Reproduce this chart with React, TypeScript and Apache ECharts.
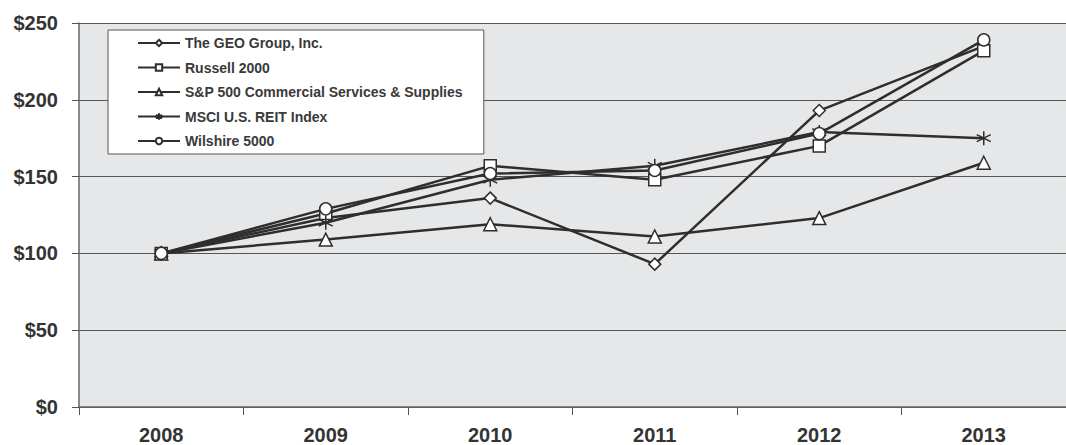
import React, { useEffect, useRef } from "react";
import * as echarts from "echarts";

const years = ["2008", "2009", "2010", "2011", "2012", "2013"];
const seriesNames = [
  "The GEO Group, Inc.",
  "Russell 2000",
  "S&P 500 Commercial Services & Supplies",
  "MSCI U.S. REIT Index",
  "Wilshire 5000",
];
const geo = [100, 123, 136, 93, 193, 235];
const russell = [100, 126, 157, 148, 170, 232];
const spCommercial = [100, 109, 119, 111, 123, 159];
const msciReit = [100, 120, 148, 157, 179, 175];
const wilshire = [100, 129, 152, 154, 178, 239];
const yTicks = [0, 50, 100, 150, 200, 250];

const ASTERISK = "path://M0,-10L0,10M-8.66,-5L8.66,5M-8.66,5L8.66,-5";
const FONT = "'Liberation Sans', Arial, sans-serif";
const INK = "#2e2e2e";

export default function App() {
  const ref = useRef<HTMLDivElement>(null);
  useEffect(() => {
    const chart = echarts.init(ref.current!, null, { renderer: "svg" });
    const values = [geo, russell, spCommercial, msciReit, wilshire];
    const symbols = ["diamond", "rect", "triangle", ASTERISK, "circle"];
    const sizes = [12, 12, 13, 14, 12];
    chart.setOption({
      animation: false,
      backgroundColor: "#ffffff",
      grid: {
        left: 79,
        top: 23,
        bottom: 37,
        right: -9,
        show: true,
        backgroundColor: "#e6e7e8",
        borderWidth: 0,
      },
      legend: {
        orient: "vertical",
        left: 108,
        top: 30,
        backgroundColor: "#ffffff",
        borderColor: "#555",
        borderWidth: 1,
        padding: [6, 21, 6, 29],
        itemGap: 10.5,
        itemWidth: 42,
        itemHeight: 8,
        textStyle: { fontFamily: FONT, fontSize: 14, fontWeight: "bold", color: "#3a3a3a" },
        data: seriesNames,
      },
      xAxis: {
        type: "category",
        data: years,
        boundaryGap: true,
        axisLine: { lineStyle: { color: "#666", width: 1.5 } },
        axisTick: { show: true, length: 8, lineStyle: { color: "#555" } },
        axisLabel: {
          margin: 18,
          fontFamily: FONT,
          fontSize: 20,
          fontWeight: "bold",
          color: "#333",
        },
        splitLine: { show: false },
      },
      yAxis: {
        type: "value",
        min: yTicks[0],
        max: yTicks[yTicks.length - 1],
        interval: 50,
        axisLine: { show: true, lineStyle: { color: "#666", width: 1.5 } },
        axisTick: { show: true, length: 7, lineStyle: { color: "#555" } },
        axisLabel: {
          margin: 21,
          fontFamily: FONT,
          fontSize: 20,
          fontWeight: "bold",
          color: "#333",
          formatter: (v: number) => "$" + v,
        },
        splitLine: { show: true, lineStyle: { color: "#555", width: 1 } },
      },
      series: seriesNames.map((name, i) => ({
        name,
        type: "line",
        data: values[i],
        symbol: symbols[i],
        symbolSize: sizes[i],
        showSymbol: true,
        lineStyle: { color: INK, width: 2.5 },
        itemStyle:
          i === 3
            ? { color: INK, borderColor: INK, borderWidth: 1.5 }
            : { color: "#ffffff", borderColor: INK, borderWidth: 1.5 },
        z: 2 + i,
      })),
    });
    return () => chart.dispose();
  }, []);
  return (
    <div
      ref={ref}
      style={{ position: "absolute", left: 0, top: 0, width: 1066, height: 445, background: "#fff" }}
    />
  );
}
